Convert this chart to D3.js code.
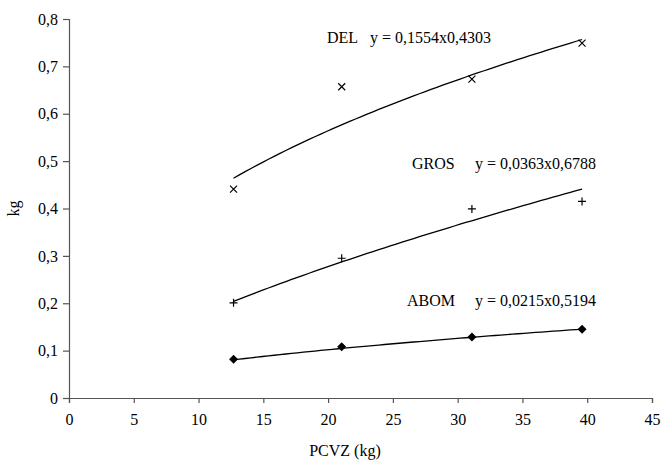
<!DOCTYPE html>
<html>
<head>
<meta charset="utf-8">
<script src="https://cdn.jsdelivr.net/npm/d3@7"></script>
<style>
  html, body { margin: 0; padding: 0; background: #fff; }
  svg, svg text { font-family: 'Liberation Serif', Tinos, 'Times New Roman', Times, serif !important; }
  svg text { fill: #000; }
</style>
</head>
<body>
<svg id="chart" width="661" height="464"></svg>
<script>
// Measured carcass weights (PCVZ) and tissue weights per group
const pcvz = [12.7, 21.05, 31.1, 39.6];
const delValues  = [0.441, 0.657, 0.673, 0.749];
const grosValues = [0.201, 0.295, 0.399, 0.415];
const abomValues = [0.082, 0.108, 0.129, 0.145];

// Power trendline coefficients y = a * x^b
const seriesNames = ["DEL", "GROS", "ABOM"];
const coefA = [0.1554, 0.0363, 0.0215];
const coefB = [0.4303, 0.6788, 0.5194];
const equations = ["y = 0,1554x0,4303", "y = 0,0363x0,6788", "y = 0,0215x0,5194"];

const xTicks = [0, 5, 10, 15, 20, 25, 30, 35, 40, 45];
const yTicks = [0, 0.1, 0.2, 0.3, 0.4, 0.5, 0.6, 0.7, 0.8];

const svg = d3.select("#chart");
const margin = { left: 69, right: 9, top: 19, bottom: 66 };
const W = 661, H = 464;
const FS = 16;

const x = d3.scaleLinear().domain([0, 45]).range([margin.left, W - margin.right]);
const y = d3.scaleLinear().domain([0, 0.8]).range([H - margin.bottom, margin.top]);

const fmt = d => d === 0 ? "0" : d3.format(".1f")(d).replace(".", ",");

// Axes
const xAxis = svg.append("g")
  .attr("transform", `translate(0,${y(0)})`)
  .call(d3.axisBottom(x).tickValues(xTicks).tickSize(5).tickPadding(11).tickFormat(d3.format("d")));
const yAxis = svg.append("g")
  .attr("transform", `translate(${x(0)},0)`)
  .call(d3.axisLeft(y).tickValues(yTicks).tickSize(6).tickPadding(5).tickFormat(fmt));
[xAxis, yAxis].forEach(g => {
  g.attr("font-family", null).attr("font-size", null);
  g.select(".domain").attr("stroke", "#555").attr("stroke-width", 1.2);
  g.selectAll(".tick line").attr("stroke", "#555").attr("stroke-width", 1.2);
  g.selectAll(".tick text").attr("font-size", FS);
});

// Axis titles
svg.append("text")
  .attr("x", 345).attr("y", 456)
  .attr("text-anchor", "middle").attr("font-size", FS)
  .text("PCVZ (kg)");
svg.append("text")
  .attr("transform", `translate(19,${y(0.4)}) rotate(-90)`)
  .attr("text-anchor", "middle").attr("font-size", FS)
  .text("kg");

// Trendlines over the observed range
const series = [delValues, grosValues, abomValues];
const xMin = d3.min(pcvz), xMax = d3.max(pcvz);
const line = d3.line().x(d => x(d[0])).y(d => y(d[1]));
series.forEach((vals, i) => {
  const pts = d3.range(0, 61).map(k => {
    const xv = xMin + (xMax - xMin) * k / 60;
    return [xv, coefA[i] * Math.pow(xv, coefB[i])];
  });
  svg.append("path").datum(pts)
    .attr("d", line)
    .attr("fill", "none").attr("stroke", "#000").attr("stroke-width", 1.3);
});

// Markers: DEL ×, GROS +, ABOM ◆
const pts = i => pcvz.map((xv, j) => [xv, series[i][j]]);
svg.append("g").selectAll("path").data(pts(0)).join("path")
  .attr("transform", d => `translate(${x(d[0])},${y(d[1])})`)
  .attr("d", "M-3.5,-3.5L3.5,3.5M-3.5,3.5L3.5,-3.5")
  .attr("stroke", "#000").attr("stroke-width", 1.2);
svg.append("g").selectAll("path").data(pts(1)).join("path")
  .attr("transform", d => `translate(${x(d[0])},${y(d[1])})`)
  .attr("d", "M-4,0L4,0M0,-4L0,4")
  .attr("stroke", "#000").attr("stroke-width", 1.2);
svg.append("g").selectAll("path").data(pts(2)).join("path")
  .attr("transform", d => `translate(${x(d[0])},${y(d[1])})`)
  .attr("d", "M0,-4.5L4.5,0L0,4.5L-4.5,0Z")
  .attr("fill", "#000");

// Trendline labels
const labelPos = [
  { nx: 327, ex: 370, by: 43 },
  { nx: 412, ex: 475, by: 169 },
  { nx: 407, ex: 475, by: 305.5 }
];
labelPos.forEach((p, i) => {
  svg.append("text").attr("x", p.nx).attr("y", p.by).attr("font-size", FS).text(seriesNames[i]);
  svg.append("text").attr("x", p.ex).attr("y", p.by).attr("font-size", FS).text(equations[i]);
});
</script>
</body>
</html>
